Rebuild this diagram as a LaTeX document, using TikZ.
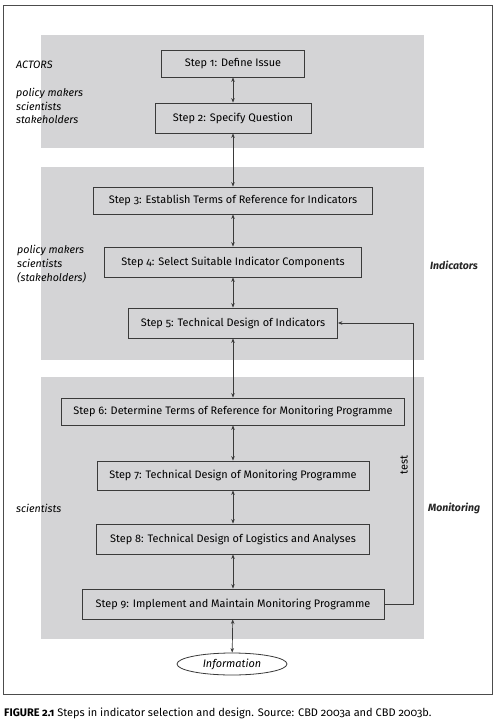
\documentclass[tikz,border=0pt]{standalone}
\usepackage{fontspec}
\setmainfont{Fira Sans}[Numbers=OldStyle]
\usetikzlibrary{arrows.meta,shapes.geometric}
\definecolor{band}{HTML}{D4D4D6}
\definecolor{edge}{HTML}{3A3A3A}
\begin{document}
\begin{tikzpicture}[x=1pt,y=-1pt,
  stepbox/.style={draw=edge, line width=0.8pt, fill=band, minimum height=#1, inner sep=0pt, font=\fontsize{10.9}{12}\selectfont, text=black},
  conn/.style={edge, line width=0.7pt, {Stealth[length=4.5pt,width=3.5pt]}-{Stealth[length=4.5pt,width=3.5pt]}},
  oneway/.style={edge, line width=0.7pt, -{Stealth[length=4.5pt,width=3.5pt]}},
  actor/.style={font=\fontsize{10.7}{13.7}\selectfont\itshape, align=left, anchor=west, inner sep=0pt, text=black},
  phase/.style={font=\fontsize{10.5}{12}\selectfont\itshape\bfseries, anchor=west, inner sep=0pt, text=black!85}]
\useasboundingbox (0,0) rectangle (500,723);
\fill[white] (0,0) rectangle (500,723);
\draw[black!70, line width=0.8pt] (3,5) rectangle (492,694);
\fill[band] (41,35) rectangle (424,148);
\fill[band] (41,167) rectangle (424,360);
\fill[band] (41,377) rectangle (424,639);

\node[stepbox=27pt, minimum width=143pt] (s1) at (233,63.5) {Step 1: Define Issue};
\node[stepbox=30pt, minimum width=156pt] (s2) at (233,118) {Step 2: Specify Question};
\node[stepbox=27pt, minimum width=279pt] (s3) at (233,200.5) {Step 3: Establish Terms of Reference for Indicators};
\node[stepbox=30pt, minimum width=257pt] (s4) at (233,262) {Step 4: Select Suitable Indicator Components};
\node[stepbox=30pt, minimum width=209pt] (s5) at (233,323) {Step 5: Technical Design of Indicators};
\node[stepbox=27pt, minimum width=343pt] (s6) at (233,411.5) {Step 6: Determine Terms of Reference for Monitoring Programme};
\node[stepbox=29pt, minimum width=272pt] (s7) at (233,475.5) {Step 7: Technical Design of Monitoring Programme};
\node[stepbox=30pt, minimum width=273pt] (s8) at (233,539) {Step 8: Technical Design of Logistics and Analyses};
\node[stepbox=30pt, minimum width=302pt] (s9) at (233,604) {Step 9: Implement and Maintain Monitoring Programme};
\node[draw=edge, line width=0.8pt, fill=white, ellipse, minimum width=110pt, minimum height=22pt, inner sep=0pt, font=\fontsize{10.9}{12}\selectfont\itshape, text=black] (info) at (232,664) {Information};

\draw[conn] (s1) -- (s2);
\draw[conn] (s2) -- (s3);
\draw[conn] (s3) -- (s4);
\draw[conn] (s4) -- (s5);
\draw[conn] (s5) -- (s6);
\draw[conn] (s6) -- (s7);
\draw[conn] (s7) -- (s8);
\draw[conn] (s8) -- (s9);
\draw[conn] (s9) -- (info);

\coordinate (fb) at (413,0);
\draw[oneway] (s9.east) -- (s9.east -| fb) -- (fb |- s5.east) -- (s5.east);
\node[rotate=90, font=\fontsize{10.9}{12}\selectfont, text=black, inner sep=0pt] (test) at (404,465) {test};

\node[actor] (a1) at (16,65) {ACTORS};
\node[actor] (a2) at (16,106) {policy makers\\scientists\\stakeholders};
\node[actor] (a3) at (17,264) {policy makers\\scientists\\(stakeholders)};
\node[actor] (a4) at (16,508) {scientists};
\node[phase] (p1) at (430,265) {Indicators};
\node[phase] (p2) at (428,508) {Monitoring};

\node[anchor=west, inner sep=0pt, font=\fontsize{11}{12}\selectfont, text=black] (cap) at (4,713) {\textbf{FIGURE 2.1} Steps in indicator selection and design. Source: CBD 2003a and CBD 2003b.};
\end{tikzpicture}
\end{document}
